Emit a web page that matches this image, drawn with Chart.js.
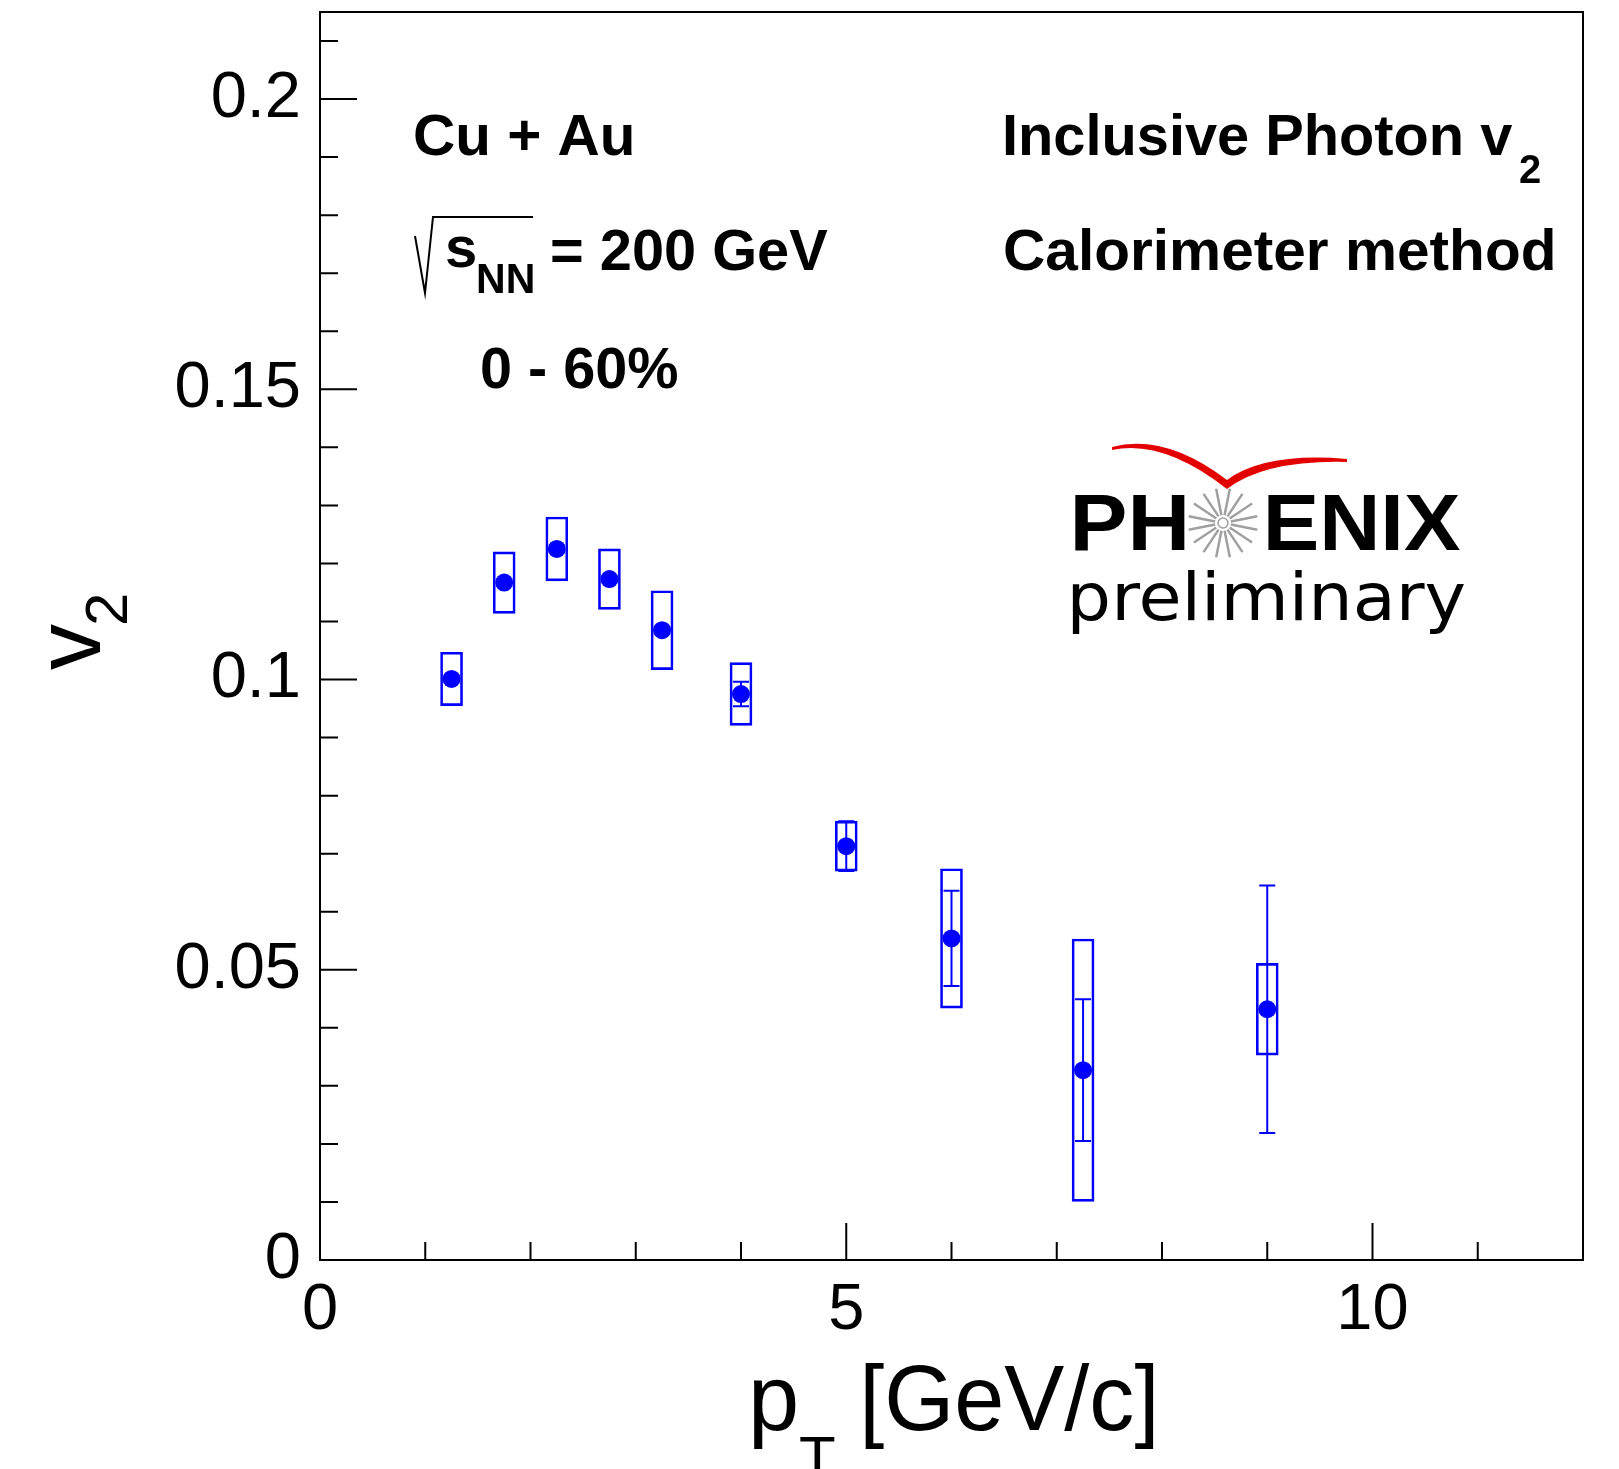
<!DOCTYPE html>
<html>
<head>
<meta charset="utf-8">
<script src="https://cdn.jsdelivr.net/npm/chart.js@4"></script>
<style>
  html, body { margin: 0; padding: 0; background: #fff; }
  #wrap { width: 1619px; height: 1469px; position: relative; }
</style>
</head>
<body>
<div id="wrap"><canvas id="v2chart"></canvas></div>
<script>
// pT bin centres [GeV/c] and measured v2
const pt = [1.25, 1.75, 2.25, 2.75, 3.25, 4.0, 5.0, 6.0, 7.25, 9.0];
const v2 = [0.1001, 0.1167, 0.1225, 0.1173, 0.1085, 0.0975, 0.0713, 0.0554, 0.0327, 0.0432];
const statErr = [0.0006, 0.0006, 0.0006, 0.0006, 0.0006, 0.0021, 0.0043, 0.0082, 0.0122, 0.0213];
const sysErr = [0.0046, 0.0053, 0.0055, 0.0052, 0.0068, 0.0054, 0.0043, 0.012, 0.0226, 0.0079];

const xTickValues = [0, 5, 10];
const yTickValues = [0, 0.05, 0.1, 0.15, 0.2];

const BLUE = "#0000ff";
const FONT = "'Liberation Sans', Arial, Helvetica, sans-serif";

// draw text so that its ink starts at `left`, optionally squeezed to `width`
function inkText(ctx, str, left, baseline, font, width) {
  ctx.font = font;
  const m = ctx.measureText(str);
  const w = m.actualBoundingBoxLeft + m.actualBoundingBoxRight;
  const sx = width ? width / w : 1;
  ctx.save();
  ctx.translate(left, baseline);
  ctx.scale(sx, 1);
  ctx.textAlign = "left";
  ctx.textBaseline = "alphabetic";
  ctx.fillText(str, m.actualBoundingBoxLeft, 0);
  ctx.restore();
}

// statistical error bars, drawn under the markers
const statBars = {
  id: "statBars",
  beforeDatasetsDraw(chart) {
    const { ctx, scales: { x, y } } = chart;
    ctx.save();
    ctx.strokeStyle = BLUE;
    ctx.lineWidth = 2;
    ctx.beginPath();
    pt.forEach((p, i) => {
      const px = x.getPixelForValue(p);
      const hi = y.getPixelForValue(v2[i] + statErr[i]);
      const lo = y.getPixelForValue(v2[i] - statErr[i]);
      ctx.moveTo(px, hi); ctx.lineTo(px, lo);
      ctx.moveTo(px - 8, hi); ctx.lineTo(px + 8, hi);
      ctx.moveTo(px - 8, lo); ctx.lineTo(px + 8, lo);
    });
    ctx.stroke();
    ctx.restore();
  }
};

const frameAndText = {
  id: "frameAndText",
  afterDraw(chart) {
    const { ctx, chartArea: a, scales: { x, y } } = chart;
    ctx.save();
    ctx.strokeStyle = "#000";
    ctx.lineWidth = 2;
    ctx.strokeRect(a.left, a.top, a.right - a.left, a.bottom - a.top);

    // inward ticks: minor every 0.01 / 1 GeV, major on labelled values
    ctx.beginPath();
    for (let i = 0; i <= 21; i++) {
      const py = y.getPixelForValue(i / 100);
      const len = i % 5 === 0 ? 37 : 18;
      ctx.moveTo(a.left, py); ctx.lineTo(a.left + len, py);
    }
    for (let i = 0; i <= 11; i++) {
      const px = x.getPixelForValue(i);
      const len = i % 5 === 0 ? 37 : 18;
      ctx.moveTo(px, a.bottom); ctx.lineTo(px, a.bottom - len);
    }
    ctx.stroke();

    ctx.fillStyle = "#000";
    // axis titles
    inkText(ctx, "p", 753, 1430, `92px ${FONT}`);
    inkText(ctx, "T", 800, 1478, `60px ${FONT}`);
    inkText(ctx, "[GeV/c]", 865, 1430, `92px ${FONT}`, 288);

    ctx.save();
    ctx.translate(100, 670);
    ctx.rotate(-Math.PI / 2);
    inkText(ctx, "v", 0, 0, `92px ${FONT}`);
    inkText(ctx, "2", 47, 27, `60px ${FONT}`);
    ctx.restore();

    // annotations
    const B = `bold 58px ${FONT}`;
    inkText(ctx, "Cu + Au", 415, 155, B, 217);
    ctx.lineWidth = 2;
    ctx.beginPath();
    ctx.moveTo(415, 236); ctx.lineTo(425, 293); ctx.lineTo(433, 217); ctx.lineTo(533, 217);
    ctx.stroke();
    inkText(ctx, "s", 447, 267, B);
    inkText(ctx, "NN", 478, 293, `bold 42px ${FONT}`, 55);
    inkText(ctx, "= 200 GeV", 552, 270, B, 276);
    inkText(ctx, "0 - 60%", 482, 388, B, 196);
    inkText(ctx, "Inclusive Photon v", 1005, 155, B, 507);
    inkText(ctx, "2", 1520, 183, `bold 40px ${FONT}`);
    inkText(ctx, "Calorimeter method", 1005, 270, B, 548);

    // PHENIX preliminary logo
    ctx.fillStyle = "#e30000";
    ctx.beginPath();
    ctx.moveTo(1112, 447);
    ctx.quadraticCurveTo(1165, 433, 1227, 480);
    ctx.quadraticCurveTo(1265, 452, 1347, 459);
    ctx.lineTo(1347, 462);
    ctx.quadraticCurveTo(1265, 460, 1227, 489);
    ctx.quadraticCurveTo(1163, 439, 1112, 450);
    ctx.closePath();
    ctx.fill();

    ctx.fillStyle = "#000";
    inkText(ctx, "PH", 1075, 550, `bold 80px ${FONT}`, 110);
    inkText(ctx, "ENIX", 1268, 550, `bold 80px ${FONT}`, 192);
    inkText(ctx, "preliminary", 1073, 620, "66px 'DejaVu Sans', sans-serif", 392);

    const cx = 1223, cy = 523;
    ctx.strokeStyle = "#a0a0a0";
    ctx.lineWidth = 2.5;
    ctx.beginPath();
    for (let k = 0; k < 16; k++) {
      const t = (k * Math.PI) / 8 + Math.PI / 16;
      ctx.moveTo(cx + 8 * Math.cos(t), cy + 8 * Math.sin(t));
      ctx.lineTo(cx + 35 * Math.cos(t), cy + 35 * Math.sin(t));
    }
    ctx.stroke();
    ctx.lineWidth = 1.5;
    ctx.beginPath();
    ctx.arc(cx, cy, 5, 0, Math.PI * 2);
    ctx.stroke();
    ctx.restore();
  }
};

const points = pt.map((p, i) => ({ x: p, y: v2[i] }));
const boxes = pt.map((p, i) => ({ x: p, y: [v2[i] - sysErr[i], v2[i] + sysErr[i]] }));

new Chart(document.getElementById("v2chart"), {
  type: "scatter",
  data: {
    datasets: [
      {
        type: "scatter",
        data: points,
        pointRadius: 9,
        pointHoverRadius: 9,
        pointBackgroundColor: BLUE,
        pointBorderWidth: 0,
        order: 0,
      },
      {
        type: "bar",
        data: boxes,
        barThickness: 22,
        backgroundColor: "rgba(0,0,0,0)",
        borderColor: BLUE,
        borderWidth: 2,
        borderSkipped: false,
        order: 1,
      },
    ],
  },
  options: {
    responsive: true,
    maintainAspectRatio: false,
    animation: false,
    devicePixelRatio: 1,
    layout: { padding: { left: 0, right: 36, top: 12, bottom: 0 } },
    plugins: { legend: { display: false }, tooltip: { enabled: false } },
    scales: {
      x: {
        type: "linear",
        min: 0,
        max: 12,
        offset: false,
        grid: { display: false, drawTicks: false },
        border: { display: false },
        afterBuildTicks: (s) => { s.ticks = xTickValues.map((v) => ({ value: v })); },
        afterFit: (s) => { s.height = 209; s.paddingLeft = 0; s.paddingRight = 0; },
        ticks: {
          font: { family: FONT, size: 65 },
          color: "#000",
          padding: 12,
          maxRotation: 0,
          callback: (v) => String(v),
        },
      },
      y: {
        type: "linear",
        min: 0,
        max: 0.215,
        grid: { display: false, drawTicks: false },
        border: { display: false },
        afterBuildTicks: (s) => { s.ticks = yTickValues.map((v) => ({ value: v })); },
        afterFit: (s) => { s.width = 320; s.paddingTop = 0; s.paddingBottom = 0; },
        ticks: {
          font: { family: FONT, size: 65 },
          color: "#000",
          padding: 19,
          callback: (v) => String(+v.toFixed(3)),
        },
      },
    },
  },
  plugins: [statBars, frameAndText],
});
</script>
</body>
</html>
